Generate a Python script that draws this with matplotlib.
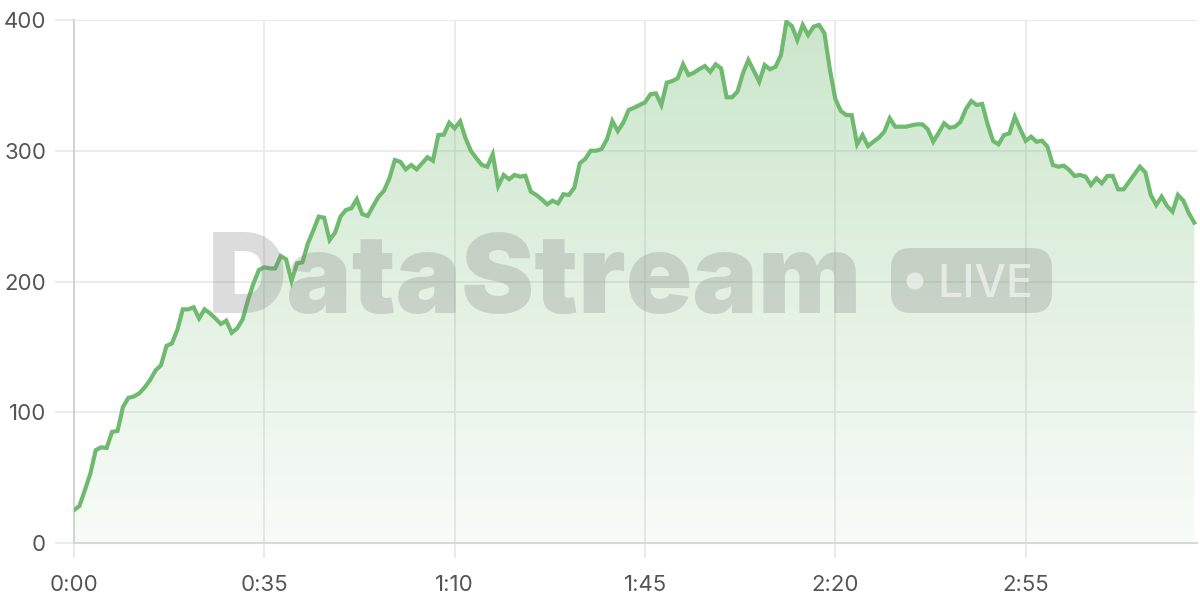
import numpy as np
import matplotlib
matplotlib.use("Agg")
import matplotlib.pyplot as plt
from matplotlib.patches import FancyBboxPatch, Circle
from matplotlib.colors import LinearSegmentedColormap

plt.rcParams['font.family'] = ['Inter', 'DejaVu Sans']

# ---- data (seconds, value) ----
seconds = list(range(207))
values = [
    25.2, 28.3, 40.5, 53.0, 71.0, 73.2, 72.7, 85.0, 85.7, 104.0,
    111.0, 112.0, 114.5, 119.0, 124.7, 132.0, 136.0, 150.7, 152.7, 163.0,
    178.7, 178.7, 180.3, 171.8, 178.7, 175.7, 171.8, 167.5, 170.0, 160.8,
    164.2, 171.0, 185.9, 198.6, 208.8, 210.9, 210.0, 210.0, 219.5, 217.0,
    200.4, 213.9, 214.7, 229.0, 239.0, 249.6, 248.8, 231.7, 237.3, 249.6,
    254.7, 256.0, 262.9, 251.6, 250.1, 257.7, 264.9, 269.4, 278.9, 292.9,
    291.6, 285.8, 289.1, 285.8, 290.4, 295.0, 292.4, 312.0, 312.3, 321.4,
    317.2, 322.5, 309.5, 299.8, 294.2, 289.1, 287.8, 297.3, 273.0, 281.5,
    278.2, 281.5, 280.2, 280.9, 268.7, 266.2, 262.9, 259.0, 261.8, 259.8,
    266.7, 266.2, 271.7, 290.4, 293.7, 300.0, 300.0, 301.3, 308.8, 322.7,
    315.1, 321.5, 331.2, 332.9, 335.0, 337.0, 343.2, 343.9, 335.0, 352.1,
    353.3, 355.4, 366.1, 357.9, 359.7, 362.5, 364.8, 360.4, 366.1, 363.0,
    340.9, 340.9, 345.2, 359.2, 369.4, 361.2, 352.8, 365.6, 362.3, 364.3,
    373.2, 398.7, 395.4, 384.7, 396.2, 388.5, 394.9, 396.2, 389.8, 362.0,
    339.5, 330.5, 327.3, 327.3, 304.9, 312.0, 303.6, 306.9, 310.0, 314.6,
    324.8, 318.4, 318.4, 318.4, 319.4, 320.2, 320.2, 316.4, 306.9, 313.8,
    321.0, 317.6, 318.4, 322.0, 331.9, 338.0, 335.0, 335.8, 320.2, 307.5,
    304.9, 312.0, 313.3, 326.0, 316.5, 307.6, 310.7, 306.9, 307.7, 303.1,
    289.1, 287.8, 288.6, 285.3, 280.7, 281.5, 280.2, 273.8, 278.9, 275.1,
    280.7, 280.7, 270.5, 270.5, 276.3, 282.2, 287.8, 283.5, 266.2, 258.5,
    264.9, 257.7, 253.4, 266.2, 261.8, 252.2, 245.0,
]
x_ticks = [0, 35, 70, 105, 140, 175]
x_tick_labels = ["0:00", "0:35", "1:10", "1:45", "2:20", "2:55"]
y_ticks = [0, 100, 200, 300, 400]
watermark_text = "DataStream"
badge_text = "LIVE"

LINE = "#6fba6f"
GRID = "#e8e8e8"
AXIS = "#d4dad4"
TXT = "#555555"

fig = plt.figure(figsize=(12, 6), dpi=100)
ax = fig.add_axes([74 / 1200, 57 / 600, (1197 - 74) / 1200, (543 - 20) / 600])

x = np.array(seconds, dtype=float)
y = np.array(values, dtype=float)

ax.set_xlim(0, x[-1] + 0.5)
ax.set_ylim(0, 400)

# gradient fill
poly = ax.fill_between(x, y, 0, color="none", lw=0)
cmap = LinearSegmentedColormap.from_list(
    "g", [(0.435, 0.729, 0.435, 0.05), (0.435, 0.729, 0.435, 0.36)])
grad = np.linspace(0, 1, 256).reshape(-1, 1)
im = ax.imshow(grad, cmap=cmap, aspect="auto", origin="lower",
               extent=[0, x[-1] + 0.5, 0, 400], zorder=1)
path = poly.get_paths()[0]
im.set_clip_path(path, transform=ax.transData)

ax.plot(x, y, color=LINE, lw=3.0, solid_joinstyle="miter", zorder=3)

# grid & axes
ax.set_xticks(x_ticks)
ax.set_xticklabels(x_tick_labels)
ax.set_yticks(y_ticks)
ax.grid(True, color=GRID, lw=1.2, zorder=0)
ax.set_axisbelow(True)
for s in ["top", "right"]:
    ax.spines[s].set_visible(False)
ax.spines["left"].set_color("#d0d0d0")
ax.spines["left"].set_linewidth(1.3)
ax.spines["bottom"].set_color(AXIS)
ax.spines["bottom"].set_linewidth(1.5)
ax.tick_params(axis="x", length=11, width=1.2, color=GRID, pad=12,
               labelsize=16, labelcolor=TXT)
ax.tick_params(axis="y", length=14, width=1.2, color=GRID, pad=6,
               labelsize=16, labelcolor=TXT)

# watermark overlay in pixel coordinates
ov = fig.add_axes([0, 0, 1, 1], facecolor="none")
ov.set_xlim(0, 1200)
ov.set_ylim(600, 0)
ov.axis("off")
ov.text(208, 313, watermark_text, fontsize=79, fontweight="black",
        color="#808080", alpha=0.27, ha="left", va="baseline", zorder=10,
        family=["Inter", "DejaVu Sans"])
ov.add_patch(FancyBboxPatch((891 + 20, 248 + 20), 161 - 40, 65 - 40,
                            boxstyle="round,pad=20", facecolor="#808080",
                            edgecolor="none", alpha=0.27, zorder=10))
ov.add_patch(Circle((915, 281), 8.5, facecolor="white", alpha=0.55,
                    edgecolor="none", zorder=11))
ov.text(937, 297, badge_text, fontsize=32, fontweight="medium", color="white",
        alpha=0.55, ha="left", va="baseline", zorder=11,
        family=["Inter", "DejaVu Sans"])

fig.savefig("out.png", dpi=100)
